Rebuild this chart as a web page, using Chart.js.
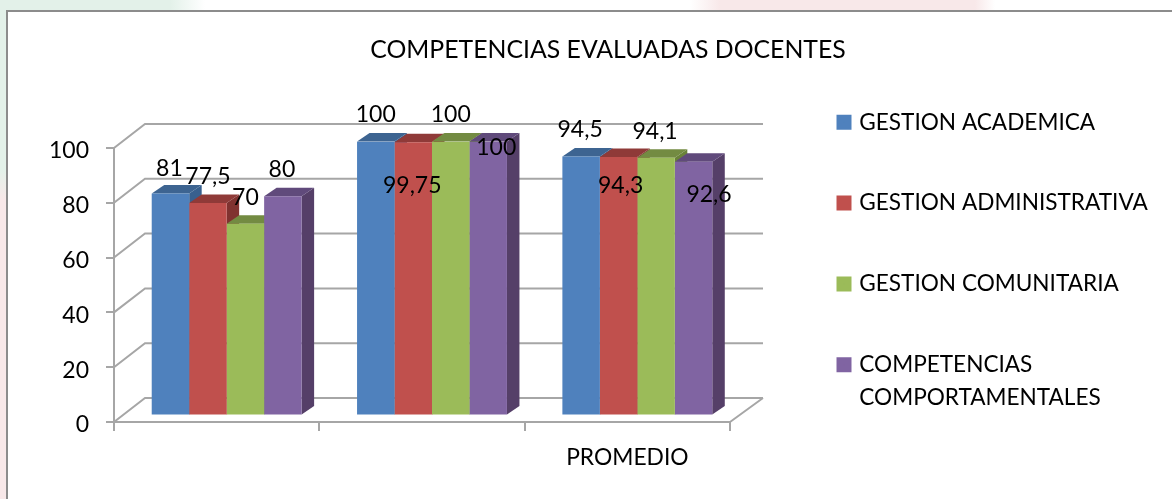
<!DOCTYPE html>
<html>
<head>
<meta charset="utf-8">
<script src="https://cdn.jsdelivr.net/npm/chart.js@4"></script>
<style>
body { margin: 0; background: #fff; }
#wrap { position: relative; width: 1172px; height: 499px; overflow: hidden;
  background: linear-gradient(90deg, #e3f1e9 0, #e3f1e9 170px, #fff 205px, #fff 690px, #f8e8e9 720px, #f8e8e9 975px, #fff 995px); }
#strip { position: absolute; left: 0; top: 0; width: 7px; height: 499px;
  background: linear-gradient(180deg, #e3f1e9 0, #e3f1e9 170px, #f8e8e9 200px, #f8e8e9 499px); }
#panel { position: absolute; left: 6px; top: 10px; width: 1180px; height: 500px; background: #fff;
  border-left: 2px solid #8c8c8c; border-top: 2px solid #8c8c8c; }
canvas { position: absolute; left: 0; top: 0; }
</style>
</head>
<body>
<div id="wrap">
  <div id="strip"></div>
  <div id="panel"></div>
  <canvas id="chart" width="1172" height="499"></canvas>
</div>
<script>
let titleText = 'COMPETENCIAS EVALUADAS DOCENTES';
let categories = ['', '', 'PROMEDIO'];
let yTicks = [0, 20, 40, 60, 80, 100];

let gestionAcademica = [81, 100, 94.5];
let gestionAdministrativa = [77.5, 99.75, 94.3];
let gestionComunitaria = [70, 100, 94.1];
let competencias = [80, 100, 92.6];

let seriesNames = ['GESTION ACADEMICA', 'GESTION ADMINISTRATIVA', 'GESTION COMUNITARIA', ['COMPETENCIAS', 'COMPORTAMENTALES']];
let seriesValues = [gestionAcademica, gestionAdministrativa, gestionComunitaria, competencias];

let frontColors = ['#4f81bd', '#c0504d', '#9bbb59', '#8064a2'];
let topColors = ['#3d6491', '#8f3a38', '#738b42', '#604a7b'];
let sideColors = ['#38608e', '#803230', '#6a8239', '#553f68'];

// hand placed labels, same as the original: offset from the top centre of each bar
let labelOffsets = [
    [[-1, -25], [0, -26.5], [-1, -26.5]],
    [[0, -27], [-1, 43], [2, 28]],
    [[0, -26], [0, -26.5], [-1, -26.5]],
    [[-1, -27], [8, 6.5], [15.5, 33]]
];

const FONT = 'Lato';
const GREY = '#a6a6a6';
const BAR_SHIFT = { x: 10, y: -6.5 };
const BAR_DEPTH = { x: 12.5, y: -8.5 };
const WALL = { x: 31, y: -24 };

const walls = {
    id: 'walls',
    beforeDatasetsDraw(chart) {
        let c = chart.ctx;
        let a = chart.chartArea;
        let y = chart.scales.y;
        c.save();
        c.strokeStyle = GREY;
        c.lineWidth = 2;
        c.beginPath();
        yTicks.forEach(t => {
            let py = y.getPixelForValue(t);
            c.moveTo(a.left, py);
            c.lineTo(a.left + WALL.x, py + WALL.y);
            c.lineTo(a.right + 2 + WALL.x, py + WALL.y);
        });
        c.moveTo(a.right, a.bottom);
        c.lineTo(a.right + 2 + WALL.x, a.bottom + WALL.y);
        c.stroke();
        c.restore();
        // bars stand a little inside the box, so everything of them is shifted
        c.save();
        c.translate(BAR_SHIFT.x, BAR_SHIFT.y);
        // side and top faces go first, left to right; the library paints the fronts over them
        seriesValues.forEach((vals, s) => {
            chart.getDatasetMeta(s).data.forEach(bar => {
                let l = bar.x - bar.width / 2;
                let r = bar.x + bar.width / 2;
                c.fillStyle = sideColors[s];
                c.beginPath();
                c.moveTo(r, bar.y);
                c.lineTo(r + BAR_DEPTH.x, bar.y + BAR_DEPTH.y);
                c.lineTo(r + BAR_DEPTH.x, bar.base + BAR_DEPTH.y);
                c.lineTo(r, bar.base);
                c.fill();
                c.fillStyle = topColors[s];
                c.beginPath();
                c.moveTo(l, bar.y);
                c.lineTo(l + BAR_DEPTH.x, bar.y + BAR_DEPTH.y);
                c.lineTo(r + BAR_DEPTH.x, bar.y + BAR_DEPTH.y);
                c.lineTo(r, bar.y);
                c.fill();
            });
        });
    },
    afterDatasetsDraw(chart) {
        let c = chart.ctx;
        c.restore();
        c.save();
        c.font = '23px ' + FONT;
        c.fillStyle = '#000';
        c.textAlign = 'center';
        c.textBaseline = 'middle';
        seriesValues.forEach((vals, s) => {
            let meta = chart.getDatasetMeta(s);
            vals.forEach((v, i) => {
                let b = meta.data[i];
                let o = labelOffsets[s][i];
                c.fillText(String(v).replace('.', ','), b.x + BAR_SHIFT.x + o[0], b.y + BAR_SHIFT.y + o[1]);
            });
        });
        c.restore();
    },
    afterLayout(chart) {
        // title is centred over the plot + legend, legend sits at a fixed place
        chart.titleBlock.left = 44;
        chart.titleBlock.right = 1172;
        let lg = chart.legend;
        let pad = lg.options.labels.padding;
        lg.left = 840 - pad;
        lg.right = 1172;
        lg.top = 111 - pad;
        lg.bottom = 900;
    }
};

new Chart(document.getElementById('chart'), {
    type: 'bar',
    data: {
        labels: categories,
        datasets: seriesValues.map((vals, s) => ({
            label: seriesNames[s],
            data: vals,
            backgroundColor: frontColors[s],
            borderWidth: 0
        }))
    },
    options: {
        responsive: false,
        animation: false,
        categoryPercentage: 0.73,
        barPercentage: 1,
        layout: { padding: { left: 0, right: 442, top: 0, bottom: 0 } },
        plugins: {
            tooltip: { enabled: false },
            title: {
                display: true,
                text: titleText,
                color: '#000',
                font: { family: FONT, size: 24.8, weight: 'normal', lineHeight: 1.2 },
                padding: { top: 35.5, bottom: 82.7 }
            },
            legend: {
                position: 'chartArea',
                align: 'start',
                labels: {
                    color: '#000',
                    font: { family: FONT, size: 22.6, lineHeight: 1.46 },
                    boxWidth: 8,
                    boxHeight: 8,
                    padding: 58.2,
                    generateLabels(chart) {
                        return Chart.defaults.plugins.legend.labels.generateLabels(chart).map(it => {
                            it.strokeStyle = it.fillStyle;
                            it.lineWidth = 7;
                            return it;
                        });
                    }
                }
            }
        },
        scales: {
            x: {
                afterFit(s) { s.height = 77; },
                grid: { drawOnChartArea: false, color: GREY, lineWidth: 2, tickLength: 9 },
                border: { color: GREY, width: 2 },
                ticks: { color: '#000', font: { family: FONT, size: 22.8 }, padding: 13, maxRotation: 0, autoSkip: false }
            },
            y: {
                min: 0,
                max: 100,
                afterFit(s) {
                    s.width = 114;
                    // Lato sits a bit high on the middle baseline
                    let draw = s.drawLabels;
                    s.drawLabels = function(area) {
                        s.ctx.save();
                        s.ctx.translate(0, 1.5);
                        draw.call(s, area);
                        s.ctx.restore();
                    };
                },
                afterBuildTicks(s) { s.ticks = yTicks.map(v => ({ value: v })); },
                grid: { drawOnChartArea: false, color: GREY, lineWidth: 2, tickLength: 8 },
                border: { color: GREY, width: 2 },
                ticks: { color: '#000', font: { family: FONT, size: 23 }, padding: 17 }
            }
        }
    },
    plugins: [walls]
});
</script>
</body>
</html>
